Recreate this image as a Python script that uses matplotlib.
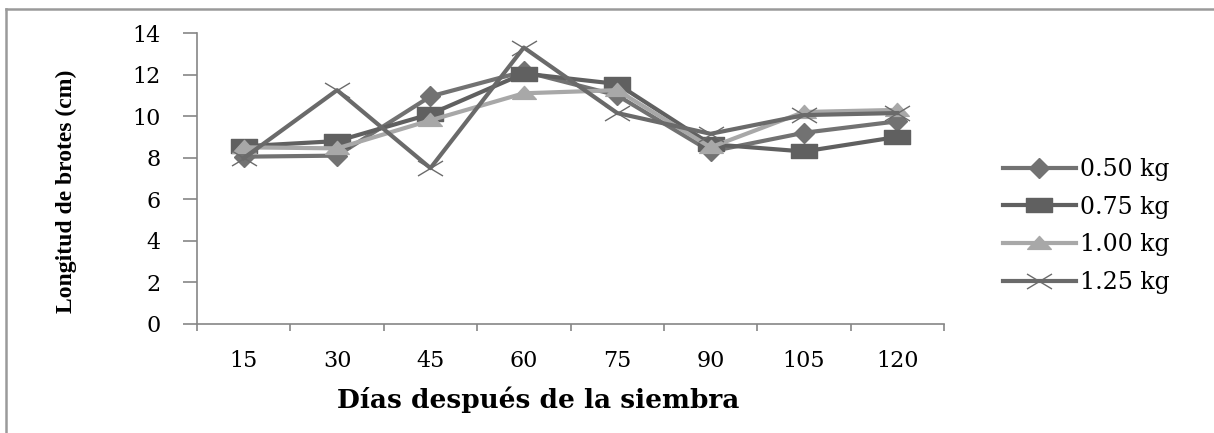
import numpy as np
import matplotlib
matplotlib.use("Agg")
from matplotlib import pyplot as plt
from matplotlib.path import Path
from matplotlib.lines import Line2D

# data
dias = ["15", "30", "45", "60", "75", "90", "105", "120"]
kg_050 = [8.05, 8.1, 10.95, 12.15, 11.0, 8.3, 9.2, 9.75]
kg_075 = [8.55, 8.8, 10.1, 12.05, 11.55, 8.65, 8.3, 9.0]
kg_100 = [8.5, 8.45, 9.8, 11.1, 11.25, 8.5, 10.2, 10.3]
kg_125 = [7.98, 11.25, 7.5, 13.3, 10.15, 9.15, 10.05, 10.15]

plt.rcParams["font.family"] = "DejaVu Serif"

# wide markers like the original spreadsheet chart
rect = Path([(-1, -0.55), (1, -0.55), (1, 0.55), (-1, 0.55), (-1, -0.55)],
            [Path.MOVETO, Path.LINETO, Path.LINETO, Path.LINETO, Path.CLOSEPOLY])
tri = Path([(-1, -0.5), (1, -0.5), (0, 0.6), (-1, -0.5)],
           [Path.MOVETO, Path.LINETO, Path.LINETO, Path.CLOSEPOLY])
cross = Path([(-1, -0.6), (1, 0.6), (-1, 0.6), (1, -0.6)],
             [Path.MOVETO, Path.LINETO, Path.MOVETO, Path.LINETO])

fig = plt.figure(figsize=(12.14, 4.33), dpi=100)
ax = fig.add_axes([197 / 1214, 1 - 324 / 433, 747 / 1214, 291 / 433])

x = np.arange(len(dias))
ax.plot(x, kg_050, color="#727272", lw=3, marker="D", ms=10,
        mec="#727272", mfc="#727272", label="0.50 kg")
ax.plot(x, kg_075, color="#606060", lw=3, marker=rect, ms=19,
        mec="#606060", mfc="#606060", label="0.75 kg")
ax.plot(x, kg_100, color="#a8a8a8", lw=3, marker=tri, ms=17,
        mec="#a8a8a8", mfc="#a8a8a8", label="1.00 kg")
ax.plot(x, kg_125, color="#6a6a6a", lw=3, marker=cross, ms=18,
        mec="#6a6a6a", mew=1, label="1.25 kg")

ax.set_xlim(-0.5, len(dias) - 0.5)
ax.set_ylim(0, 14)
ax.set_yticks(np.arange(0, 15, 2))
ax.set_xticks(x)
ax.set_xticklabels(dias)
ax.set_xticks(np.arange(-0.5, len(dias), 1), minor=True)

for side in ["top", "right"]:
    ax.spines[side].set_visible(False)
for side in ["left", "bottom"]:
    ax.spines[side].set_color("#868686")
    ax.spines[side].set_linewidth(1.2)

ax.tick_params(axis="y", length=10, width=1.2, color="#868686",
               pad=16, labelsize=16)
ax.tick_params(axis="x", which="major", length=0, pad=19, labelsize=16)
ax.tick_params(axis="x", which="minor", length=5, width=1.2, color="#868686")

fig.text(66 / 1214, 1 - 191 / 433, "Longitud de brotes (cm)", rotation=90,
         ha="center", va="center", fontsize=17, fontweight="bold",
         family="Liberation Serif")
fig.text(538 / 1214, 1 - 400 / 433, "Días después de la siembra",
         ha="center", va="center", fontsize=19, fontweight="bold")

fig.legend(loc="center left", bbox_to_anchor=(991 / 1214, 1 - 226 / 433),
           frameon=False, fontsize=17, handlelength=3.1, handletextpad=0.15,
           labelspacing=0.62, borderpad=0)

# outer frame of the pasted chart (top and left edges only)
fig.add_artist(Line2D([6 / 1214, 1], [1 - 9 / 433, 1 - 9 / 433],
                      transform=fig.transFigure, color="#9a9a9a", lw=1.8))
fig.add_artist(Line2D([6 / 1214, 6 / 1214], [0, 1 - 9 / 433],
                      transform=fig.transFigure, color="#9a9a9a", lw=1.8))

fig.savefig("out.png", dpi=100)
